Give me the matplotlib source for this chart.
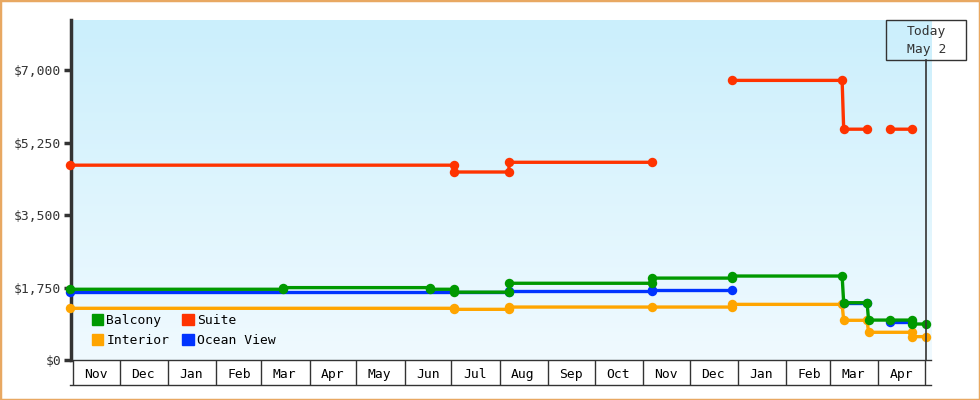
import numpy as np
import matplotlib
matplotlib.use('Agg')
import matplotlib.pyplot as plt
import matplotlib.dates as mdates
from matplotlib.colors import LinearSegmentedColormap
from matplotlib.patches import Patch, Rectangle
from matplotlib.lines import Line2D
import pandas as pd

nan = np.nan

# Preços por categoria de cabine (datas de observação e valores em dólares)
balcony_dates = ['2023-10-30', '2024-03-15', '2024-03-15', '2024-06-17', '2024-06-17',
                 '2024-07-03', '2024-07-03', '2024-08-07', '2024-08-07', '2024-11-07',
                 '2024-11-07', '2024-12-28', '2024-12-28', '2025-03-09', '2025-03-10',
                 '2025-03-25', '2025-03-26', '2025-04-09', '2025-04-23', '2025-04-23',
                 '2025-05-02']
balcony_prices = [1710, 1710, 1750, 1750, 1710,
                  1710, 1640, 1640, 1855, 1855,
                  1980, 1980, 2030, 2030, 1385,
                  1385, 965, 965, 965, 870,
                  870]

interior_dates = ['2023-10-30', '2024-07-03', '2024-07-03', '2024-08-07', '2024-08-07',
                  '2024-11-07', '2024-12-28', '2024-12-28', '2025-03-09', '2025-03-10',
                  '2025-03-25', '2025-03-26', '2025-04-23', '2025-04-23', '2025-05-02']
interior_prices = [1250, 1250, 1225, 1225, 1280,
                   1280, 1280, 1345, 1345, 960,
                   960, 670, 670, 565, 565]

suite_dates = ['2023-10-30', '2024-07-03', '2024-07-03', '2024-08-07', '2024-08-07',
               '2024-11-07', '2024-11-20', '2024-12-28', '2025-03-09', '2025-03-10',
               '2025-03-25', '2025-04-01', '2025-04-09', '2025-04-23']
suite_prices = [4710, 4710, 4545, 4545, 4780,
                4780, nan, 6760, 6760, 5580,
                5580, nan, 5580, 5580]

ocean_dates = ['2023-10-30', '2024-08-07', '2024-08-07', '2024-11-07', '2024-11-07',
               '2024-12-28', '2025-02-01', '2025-03-10', '2025-03-25', '2025-04-01',
               '2025-04-09', '2025-04-23']
ocean_prices = [1636, 1636, 1665, 1665, 1690,
                1690, nan, 1370, 1370, nan,
                925, 925]

today = '2025-05-02'
y_ticks = [0, 1750, 3500, 5250, 7000]

FONT = 'DejaVu Sans Mono'
FS = 9.4
DARK = '#333333'

fig = plt.figure(figsize=(9.8, 4.0), dpi=100)
ax = fig.add_axes([71 / 980, 40 / 400, 860 / 980, 340 / 400])

# fundo em degradê
cmap = LinearSegmentedColormap.from_list('bg', ['#cbeffc', '#f0faff'])
ax.imshow(np.linspace(0, 1, 256).reshape(-1, 1), cmap=cmap, aspect='auto',
          extent=[0, 1, 0, 1], transform=ax.transAxes, zorder=0)

series = [
    (suite_dates, suite_prices, '#ff3300'),
    (interior_dates, interior_prices, '#ffa500'),
    (ocean_dates, ocean_prices, '#0033ff'),
    (balcony_dates, balcony_prices, '#009900'),
]
for d, p, c in series:
    ax.plot(pd.to_datetime(d), p, color=c, lw=2.4, marker='o', ms=6.8,
            markeredgewidth=0, zorder=3, clip_on=False)

x0 = pd.Timestamp('2023-10-30 17:00')
x1 = pd.Timestamp('2025-05-05 02:00')
ax.set_xlim(x0, x1)
ax.set_ylim(0, 8220)

# eixo y
ax.set_yticks(y_ticks)
ax.set_yticklabels(['$' + format(v, ',') for v in y_ticks], fontfamily=FONT, fontsize=FS)
ax.tick_params(axis='y', length=5, width=2.5, color=DARK, pad=2, labelcolor=DARK)

# eixo x: caixas com os meses
ax.xaxis.set_major_locator(mdates.MonthLocator(bymonthday=1))
ax.xaxis.set_major_formatter(plt.NullFormatter())
ax.xaxis.set_minor_locator(mdates.MonthLocator(bymonthday=16))
ax.xaxis.set_minor_formatter(mdates.DateFormatter('%b'))
ax.tick_params(axis='x', which='major', length=18, width=1, color=DARK, direction='out')
ax.tick_params(axis='x', which='minor', length=0, pad=6, labelcolor='black')
for lab in ax.xaxis.get_minorticklabels():
    lab.set_fontfamily(FONT)
    lab.set_fontsize(FS)
ax.add_line(Line2D([-0.001, 1.0], [-25 / 340, -25 / 340], transform=ax.transAxes,
                   color=DARK, lw=1, clip_on=False))

for s in ['top', 'right']:
    ax.spines[s].set_visible(False)
ax.spines['left'].set_color(DARK)
ax.spines['left'].set_linewidth(2.5)
ax.spines['bottom'].set_color(DARK)
ax.spines['bottom'].set_linewidth(1)

# legenda
handles = [Patch(color='#009900', label='Balcony'),
           Patch(color='#ffa500', label='Interior'),
           Patch(color='#ff3300', label='Suite'),
           Patch(color='#0033ff', label='Ocean View')]
ax.legend(handles=handles, ncol=2, loc='upper left', bbox_to_anchor=(21 / 860, 46 / 340),
          frameon=False, borderpad=0, borderaxespad=0, handlelength=0.85, handleheight=0.85,
          handletextpad=0.25, columnspacing=1.0, labelspacing=0.55,
          prop={'family': FONT, 'size': FS})

# marcador "Today"
ax.axvline(pd.Timestamp(today), ymin=0, ymax=300 / 340, color=DARK, lw=1.2, zorder=4)
tx = ax.transData.transform((mdates.date2num(pd.Timestamp(today)), 0))[0] / fig.bbox.width
fig.patches.append(Rectangle((tx - 40 / 980, 340 / 400), 80 / 980, 40 / 400,
                             transform=fig.transFigure, fill=False, edgecolor=DARK, lw=1))
fig.text(tx, 1 - 32 / 400, 'Today', ha='center', va='center', color=DARK,
         fontfamily=FONT, fontsize=FS)
fig.text(tx, 1 - 50 / 400, pd.Timestamp(today).strftime('%b ') + str(pd.Timestamp(today).day),
         ha='center', va='center', color=DARK, fontfamily=FONT, fontsize=FS)

# moldura externa
fig.patches.append(Rectangle((0, 0), 1, 1, transform=fig.transFigure, fill=False,
                             edgecolor='#e8a862', lw=2.5))

fig.savefig('out.png', dpi=100)
